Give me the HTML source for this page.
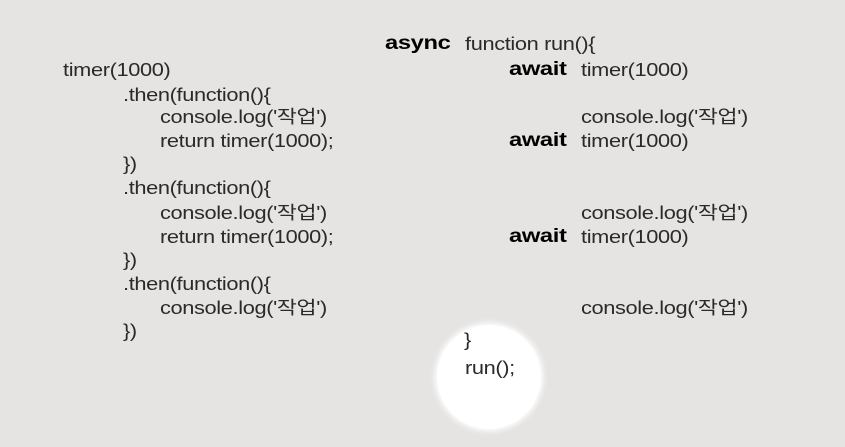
<!DOCTYPE html>
<html><head><meta charset="utf-8"><style>
html,body{margin:0;padding:0;}
body{width:845px;height:447px;background:#e5e4e3;position:relative;overflow:hidden;font-family:"Liberation Sans","Noto Sans CJK KR",sans-serif;font-size:18px;color:#2a2a2a;}
.t{position:absolute;white-space:nowrap;line-height:22px;letter-spacing:-0.3px;transform:scaleX(1.21);transform-origin:0 50%;}
.b{font-weight:bold;color:#000;font-size:19px;transform:scaleX(1.25);}
.c{position:absolute;left:437px;top:325px;width:104px;height:104px;border-radius:50%;background:#fff;box-shadow:0 0 6px 2px #fff;}
</style></head><body>
<div class="c"></div>
<div class="t" style="left:63px;top:59px">timer(1000)</div>
<div class="t" style="left:123px;top:84px">.then(function(){</div>
<div class="t" style="left:160px;top:106px">console.log('작업')</div>
<div class="t" style="left:160px;top:130px">return timer(1000);</div>
<div class="t" style="left:123px;top:153px">})</div>
<div class="t" style="left:123px;top:177px">.then(function(){</div>
<div class="t" style="left:160px;top:202px">console.log('작업')</div>
<div class="t" style="left:160px;top:226px">return timer(1000);</div>
<div class="t" style="left:123px;top:249px">})</div>
<div class="t" style="left:123px;top:273px">.then(function(){</div>
<div class="t" style="left:160px;top:297px">console.log('작업')</div>
<div class="t" style="left:123px;top:320px">})</div>

<div class="t b" style="left:385px;top:33px">async</div>
<div class="t" style="left:465px;top:33px">function run(){</div>
<div class="t b" style="left:509px;top:59px">await</div>
<div class="t" style="left:581px;top:59px">timer(1000)</div>
<div class="t" style="left:581px;top:106px">console.log('작업')</div>
<div class="t b" style="left:509px;top:130px">await</div>
<div class="t" style="left:581px;top:130px">timer(1000)</div>
<div class="t" style="left:581px;top:202px">console.log('작업')</div>
<div class="t b" style="left:509px;top:226px">await</div>
<div class="t" style="left:581px;top:226px">timer(1000)</div>
<div class="t" style="left:581px;top:297px">console.log('작업')</div>
<div class="t" style="left:464px;top:329px">}</div>
<div class="t" style="left:465px;top:357px">run();</div>
</body></html>
